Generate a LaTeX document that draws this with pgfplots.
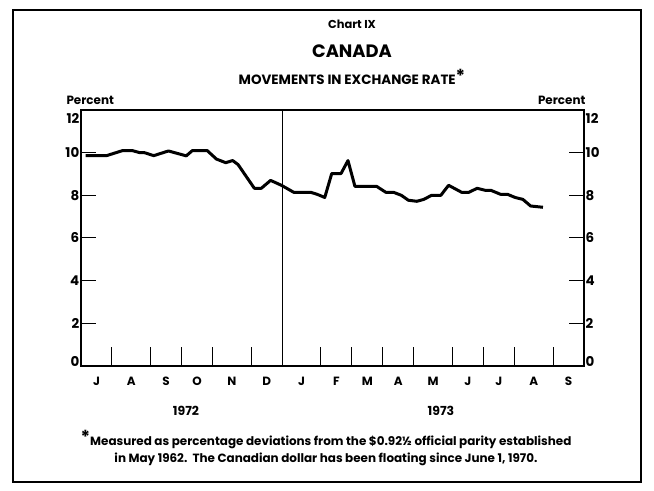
\documentclass[border=0pt]{standalone}
\usepackage{fontspec}
\setmainfont{Poppins}
\usepackage{pgfplots}
\pgfplotsset{compat=1.18}
\usepackage{pgfplotstable}
\pgfplotstableread{
w v
0.6 9.86
3.3 9.86
5.4 10.1
6.6 10.1
7.6 10.0
8.2 10.0
9.4 9.86
11.3 10.08
13.6 9.85
14.4 10.1
16.3 10.1
17.5 9.7
18.7 9.53
19.6 9.63
20.3 9.44
22.4 8.33
23.3 8.33
24.5 8.7
25.9 8.47
27.5 8.14
29.7 8.14
30.5 8.05
31.5 7.9
32.4 9.02
33.6 9.02
34.5 9.63
35.4 8.42
38.2 8.42
39.4 8.14
40.4 8.14
41.4 8.0
42.3 7.77
43.4 7.72
44.3 7.81
45.3 8.0
46.5 8.0
47.5 8.47
49.2 8.14
50.1 8.14
51.2 8.33
52.3 8.23
53.0 8.23
54.2 8.05
55.1 8.05
56.1 7.9
57.1 7.81
58.1 7.5
59.7 7.44
}\rate
\begin{document}
\begin{tikzpicture}
\path[use as bounding box] (0bp,0bp) rectangle (654bp,491bp);
\draw[line width=1.6bp] (13bp,9bp) rectangle (641bp,481bp);
\node[font=\bfseries\fontsize{11.5}{13}\selectfont] at (352bp,467bp) {Chart IX};
\node[font=\bfseries\fontsize{18}{21}\selectfont] at (352bp,440bp) {CANADA};
\node[font=\bfseries\fontsize{13.5}{15}\selectfont] at (352bp,414bp) {MOVEMENTS IN EXCHANGE RATE\raisebox{0.3ex}{\fontsize{18}{18}\selectfont *}};
\node[font=\bfseries\fontsize{12}{14}\selectfont, anchor=west] at (63bp,391bp) {Percent};
\node[font=\bfseries\fontsize{12}{14}\selectfont, anchor=east] at (589bp,391bp) {Percent};
\node[font=\bfseries\fontsize{12.5}{14}\selectfont] at (186bp,80bp) {1972};
\node[font=\bfseries\fontsize{12.5}{14}\selectfont] at (441bp,80bp) {1973};
\node[font=\bfseries\fontsize{12}{17}\selectfont, align=center] at (326bp,43bp) {\raisebox{0.2ex}{\fontsize{18}{18}\selectfont *}Measured as percentage deviations from the \$0.92½ official parity established\\in May 1962.\ \ The Canadian dollar has been floating since June 1, 1970.};
\begin{axis}[at={(81bp,125bp)}, anchor=south west, scale only axis,
  width=503bp, height=256bp, xmin=0, xmax=65, ymin=0, ymax=12,
  axis line style={line width=1.2bp},
  xtick=\empty, ytick={2,4,6,8,10},
  yticklabel=\empty,
  ytick pos=both, tick align=inside,
  major tick length=15bp, tick style={line width=1bp, black}]
\addplot[line width=3bp, line join=round, black] table[x=w, y=v] {\rate};
\draw[line width=1bp] (axis cs:26,0) -- (axis cs:26,12);
\end{axis}
\begin{axis}[at={(81bp,125bp)}, anchor=south west, scale only axis,
  width=503bp, height=256bp, xmin=0, xmax=65, ymin=0, ymax=12,
  axis line style={draw=none},
  xtick={4,9,13,17,22,31,35,39,43,48,52,56,61}, xticklabel=\empty,
  xtick pos=bottom, tick align=inside, major tick length=19bp,
  tick style={line width=1bp, black},
  ytick={0.2,2,4,6,8,10,11.6}, yticklabels={0,2,4,6,8,10,12},
  ytick pos=right, yticklabel pos=right, ytick style={draw=none},
  yticklabel style={font=\bfseries\fontsize{13.5}{15}\selectfont, inner sep=1.5bp}]
\end{axis}
\begin{axis}[at={(81bp,125bp)}, anchor=south west, scale only axis,
  width=503bp, height=256bp, xmin=0, xmax=65, ymin=0, ymax=12,
  axis line style={draw=none},
  ytick={0.2,2,4,6,8,10,11.6}, yticklabels={0,2,4,6,8,10,12},
  ytick pos=left, yticklabel pos=left, ytick style={draw=none},
  yticklabel style={font=\bfseries\fontsize{13.5}{15}\selectfont, inner sep=1.5bp},
  xtick={2,6.5,11,15,19.5,24,28.5,33,37,41,45.5,50,54,58.5,63},
  xticklabels={J,A,S,O,N,D,J,F,M,A,M,J,J,A,S},
  xtick pos=bottom, major tick length=0pt, xtick style={draw=none},
  xticklabel style={font=\bfseries\fontsize{12}{14}\selectfont, inner sep=2bp, yshift=-9bp}]
\end{axis}
\end{tikzpicture}
\end{document}
